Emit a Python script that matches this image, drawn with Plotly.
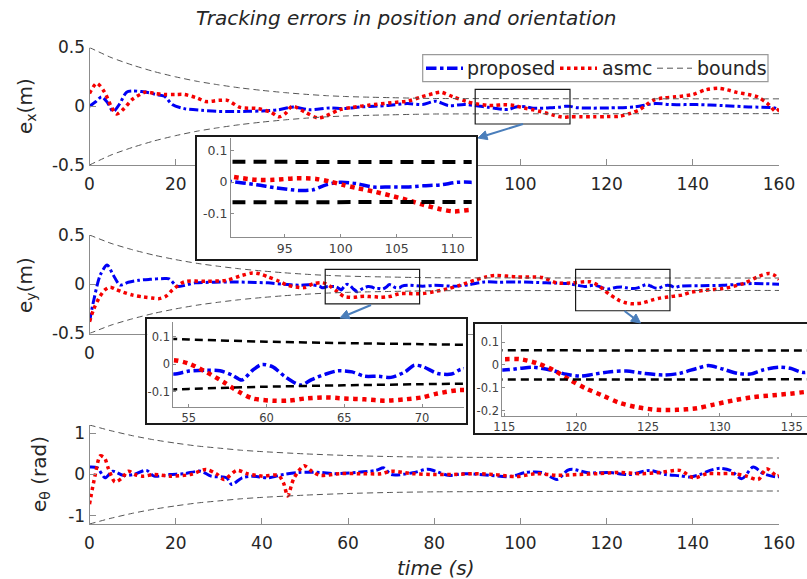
import math
import plotly.graph_objects as go

W, H = 807, 579

# ---------------- data ----------------
t_ticks = [0, 20, 40, 60, 80, 100, 120, 140, 160]
series_names = ["proposed", "asmc", "bounds"]

# e_x
ex_t_prop = [0, 1.5, 2.8, 4.2, 5.5, 7, 8.6, 10.2, 12, 13.8, 15.5, 17.4, 19.2, 22, 26, 29.4, 33, 36.6, 40,
             43.8, 47.4, 51, 55.8, 59, 63, 69, 73.7, 77.3, 80.3, 83.3, 87, 90.2, 92.5, 94.3, 96.3, 97.5,
             98.7, 99.9, 101.4, 102.9, 104.4, 105.9, 107.4, 108.9, 110.4, 111.6, 113, 116.5, 120.5,
             126.5, 131.3, 135, 141, 147, 153, 159, 160]
ex_prop = [0, 0.04, 0.08, 0.03, -0.045, 0.02, 0.12, 0.13, 0.125, 0.115, 0.1, 0.085, 0.015, -0.02, -0.035,
           -0.043, -0.045, -0.043, -0.04, -0.03, -0.006, -0.03, -0.014, -0.02, -0.006, 0.006, 0.023, 0.014,
           0.043, 0.006, 0.015, 0.002, -0.009, -0.019, -0.027, -0.025, -0.009, -0.001, -0.005, -0.016,
           -0.016, -0.016, -0.012, -0.009, -0.001, -0.001, -0.012, -0.016, -0.014, -0.006, 0.023, 0.014,
           0.014, 0.006, -0.006, -0.014, -0.03]
ex_t_asmc = [0, 1.7, 3.5, 5, 6.3, 8, 10, 13, 15, 17.4, 20, 22, 25, 27, 30, 32, 35, 39, 42, 44, 45.5, 47,
             50, 53, 55, 58, 61, 65, 70, 74, 77, 80, 81.5, 84.4, 87.5, 90.2, 92.5, 94, 96, 97.8, 99, 100.2,
             101.4, 102.9, 104.4, 105.9, 107.4, 108.9, 110.1, 111.6, 114, 117, 120, 123, 125.5, 127.6,
             130.7, 133, 136, 140, 143, 146, 148, 150, 153.4, 155, 157.3, 159.3, 160]
ex_asmc = [0.11, 0.195, 0.12, 0.0, -0.066, -0.02, 0.06, 0.12, 0.11, 0.1, 0.1, 0.1, 0.07, 0.04, 0.05, 0.05,
           -0.01, -0.02, -0.05, -0.09, -0.06, 0.0, -0.05, -0.1, -0.08, -0.03, -0.01, 0.01, 0.03, 0.045, 0.08,
           0.11, 0.12, 0.08, 0.04, 0.018, 0.007, 0.007, 0.012, 0.01, 0.002, -0.009, -0.019, -0.03, -0.043,
           -0.057, -0.073, -0.087, -0.094, -0.089, -0.09, -0.09, -0.088, -0.085, -0.06, -0.03, 0.05, 0.07,
           0.08, 0.1, 0.14, 0.153, 0.14, 0.12, 0.096, 0.08, 0.025, -0.046, -0.02]

# e_y
ey_t_prop = [0, 1, 2.5, 4.1, 5.5, 7.1, 9, 11.4, 14, 17.4, 18.5, 20.4, 24.6, 29, 33, 37, 41.4, 45, 48.6, 51,
             53.4, 54, 55, 56.1, 57, 57.8, 58.4, 59.1, 59.7, 60.4, 61.2, 62.2, 62.9, 63.8, 64.6, 65.5, 66.3,
             67.2, 68, 68.9, 69.5, 70.1, 71, 71.9, 72.5, 74, 77.3, 80, 84.5, 88, 91.7, 95, 99, 106, 111,
             114.9, 116.1, 117, 118.2, 119.3, 120.3, 121.2, 122.4, 123.5, 124.7, 126.1, 127.2, 128.4, 129.2,
             130.2, 131.2, 132.1, 133, 134.1, 134.9, 135.8, 137, 142, 147, 154, 160]
ey_prop = [-0.38, -0.16, 0.094, 0.195, 0.094, -0.008, 0.02, 0.04, 0.05, 0.058, 0.055, -0.02, 0.014, 0.02,
           0.024, 0.02, 0.014, 0.0, -0.01, -0.005, -0.02, -0.036, -0.025, -0.022, -0.024, -0.04, -0.058,
           -0.022, -0.001, -0.01, -0.046, -0.076, -0.056, -0.036, -0.024, -0.028, -0.044, -0.044, -0.048,
           -0.028, -0.004, -0.01, -0.034, -0.036, -0.019, -0.01, -0.02, -0.01, -0.02, -0.005, 0.024, 0.02,
           0.024, 0.014, 0.007, -0.022, -0.015, -0.01, -0.022, -0.041, -0.049, -0.041, -0.03, -0.027,
           -0.037, -0.044, -0.037, -0.015, -0.003, -0.018, -0.037, -0.04, -0.022, -0.01, -0.015, -0.033,
           -0.02, -0.015, -0.01, 0.007, 0.0]
ey_t_asmc = [0, 1, 2.4, 3.5, 4.8, 6, 7.8, 10, 12.6, 14.5, 16.2, 17.8, 19.2, 22, 27, 31.8, 35.4, 37.8, 39.5,
             41.4, 44, 46, 49.8, 52, 54, 55, 56.1, 57.2, 58.2, 59.1, 60.4, 61.4, 62.5, 63.8, 65, 66.3, 67.6,
             68.9, 70, 71, 72.3, 74, 77.3, 80, 83.3, 86, 89.3, 92, 94, 99, 105, 108.5, 112, 114.9, 116.1,
             117.3, 118.4, 119.6, 120.7, 121.9, 123, 124.2, 125.6, 127, 128.4, 129.5, 130.9, 132.3, 133.7,
             134.9, 135.9, 137.5, 139.7, 143, 147, 151.7, 155.3, 157.7, 159, 160]
ey_asmc = [-0.38, -0.25, -0.126, -0.06, -0.03, -0.05, -0.08, -0.11, -0.13, -0.14, -0.146, -0.12, -0.06,
           0.024, 0.03, 0.04, 0.09, 0.115, 0.105, 0.075, 0.03, -0.01, -0.034, 0.007, 0.015, 0.002, -0.028,
           -0.064, -0.1, -0.125, -0.133, -0.133, -0.125, -0.121, -0.125, -0.128, -0.133, -0.128, -0.121,
           -0.107, -0.095, -0.095, -0.095, -0.075, -0.044, -0.01, 0.04, 0.075, 0.09, 0.075, 0.068, 0.014,
           0.014, 0.025, 0.025, 0.007, -0.022, -0.067, -0.104, -0.136, -0.166, -0.185, -0.197, -0.197,
           -0.19, -0.175, -0.156, -0.141, -0.133, -0.126, -0.119, -0.11, -0.08, -0.06, -0.044, 0.007, 0.08,
           0.11, 0.09, 0.047]

# e_theta
eth_t_prop = [0, 1.8, 3.6, 5.4, 7.8, 10.2, 13.2, 15, 18.6, 22, 25.8, 28.2, 31.8, 33, 35.4, 37.8, 41.4, 45,
              48.6, 53.4, 57, 61.8, 66.5, 68.3, 70, 75, 78.5, 80.3, 83.3, 87, 93, 97.7, 101.3, 105, 108.5,
              110.9, 112, 115.7, 120.5, 125.3, 130, 133.7, 137, 139.4, 141.7, 144, 146.3, 148.7, 151.4,
              154, 156.4, 159.5, 160]
eth_prop = [0.18, 0.16, -0.08, 0.08, -0.02, 0.0, 0.1, -0.04, 0.0, 0.02, 0.08, -0.04, -0.08, -0.24, -0.08,
            -0.04, -0.08, 0.0, 0.05, 0.05, 0.02, 0.05, 0.1, 0.16, 0.0, 0.04, 0.13, 0.08, -0.02, 0.02, -0.02,
            -0.05, 0.05, 0.05, -0.12, 0.1, 0.13, 0.04, 0.05, 0.0, 0.1, 0.0, -0.03, -0.06, 0.0, 0.1, 0.15,
            0.1, -0.1, 0.18, 0.02, -0.06, -0.05]
eth_t_asmc = [0, 1.3, 2.5, 3.5, 4.4, 5.9, 7.4, 9, 10.5, 12.5, 15, 18.6, 23.4, 27, 29.4, 31.2, 34.2, 36.6,
              40.2, 43.8, 45, 46, 47.4, 49.8, 51.6, 53.4, 58, 63, 67.7, 70, 75, 79.7, 84.5, 89.3, 94, 99,
              103.8, 108.6, 113.3, 118, 122.9, 127.7, 132.5, 137, 140.2, 143.3, 146.3, 149.4, 152.5, 155.2,
              157.1, 159.5, 160]
eth_asmc = [-0.72, -0.02, 0.45, 0.4, 0.14, -0.18, -0.1, 0.08, 0.0, -0.04, 0.0, -0.04, 0.0, 0.12, 0.02,
            -0.12, 0.1, 0.02, -0.04, -0.02, -0.2, -0.52, -0.1, 0.21, 0.08, -0.02, 0.02, 0.02, 0.02, 0.08,
            0.02, 0.0, 0.0, 0.02, 0.0, -0.05, 0.02, -0.02, 0.0, 0.02, 0.05, 0.02, 0.05, 0.1, -0.08, 0.02,
            0.02, 0.02, -0.04, -0.12, 0.14, -0.04, -0.02]

# prescribed performance bounds (upper; lower is its mirror)
bnd_t_pos = [0, 5, 10, 15, 20, 25, 30, 35, 40, 45, 50, 55, 60, 65, 70, 75, 80, 160]
bnd_pos = [0.5, 0.415, 0.35, 0.295, 0.25, 0.212, 0.182, 0.156, 0.135, 0.117, 0.102, 0.09, 0.082, 0.077,
           0.073, 0.069, 0.066, 0.063]
bnd_t_ang = [0, 5, 10, 15, 20, 25, 30, 35, 40, 50, 60, 70, 80, 160]
bnd_ang = [1.2, 1.06, 0.94, 0.84, 0.76, 0.69, 0.64, 0.59, 0.555, 0.5, 0.46, 0.435, 0.42, 0.4]

for a, b in [(ex_t_prop, ex_prop), (ex_t_asmc, ex_asmc), (ey_t_prop, ey_prop), (ey_t_asmc, ey_asmc),
             (eth_t_prop, eth_prop), (eth_t_asmc, eth_asmc), (bnd_t_pos, bnd_pos), (bnd_t_ang, bnd_ang)]:
    assert len(a) == len(b), (len(a), len(b))

# ---------------- helpers ----------------
def px(x):
    return x / W

def py(y):
    return 1 - y / H

BLUE = "rgb(0,0,245)"
RED = "rgb(245,0,0)"
AXC = "#8c8c8c"
FONT = "DejaVu Sans"
BND_MAIN = dict(color="#555555", width=1, dash="6px,4px")

fig = go.Figure()

def add_series(xa, ya, tp, vp, ta, va, tb, vb, inset=False, bwidth=None, bdash=None):
    lw_b = 3.5 if inset else 3
    lw_r = 4.5 if inset else 3.5
    fig.add_trace(go.Scatter(x=tp, y=vp, xaxis=xa, yaxis=ya, mode="lines", name=series_names[0],
                             line=dict(color=BLUE, width=lw_b, dash="dashdot", shape="spline", smoothing=0.8),
                             showlegend=False, hoverinfo="skip"))
    fig.add_trace(go.Scatter(x=ta, y=va, xaxis=xa, yaxis=ya, mode="lines", name=series_names[1],
                             line=dict(color=RED, width=lw_r, dash="dot", shape="spline", smoothing=0.8),
                             showlegend=False, hoverinfo="skip"))
    if inset:
        bl = dict(color="black", width=bwidth, dash=bdash)
    else:
        bl = dict(BND_MAIN)
    for sgn in (1, -1):
        fig.add_trace(go.Scatter(x=tb, y=[sgn * v for v in vb], xaxis=xa, yaxis=ya, mode="lines",
                                 name=series_names[2], line=dict(bl, shape="spline", smoothing=0.6),
                                 showlegend=False, hoverinfo="skip"))

def dummy(xa, ya):
    fig.add_trace(go.Scatter(x=[None], y=[None], xaxis=xa, yaxis=ya, mode="lines",
                             showlegend=False, hoverinfo="skip"))

# main subplots
add_series("x", "y", ex_t_prop, ex_prop, ex_t_asmc, ex_asmc, bnd_t_pos, bnd_pos)
add_series("x2", "y2", ey_t_prop, ey_prop, ey_t_asmc, ey_asmc, bnd_t_pos, bnd_pos)
add_series("x3", "y3", eth_t_prop, eth_prop, eth_t_asmc, eth_asmc, bnd_t_ang, bnd_ang)
# insets (box frame first, then zoomed axes)
dummy("x4", "y4")
add_series("x5", "y5", ex_t_prop, ex_prop, ex_t_asmc, ex_asmc, bnd_t_pos, bnd_pos, inset=True,
           bwidth=4, bdash="13px,8px")
dummy("x6", "y6")
add_series("x7", "y7", ey_t_prop, ey_prop, ey_t_asmc, ey_asmc, bnd_t_pos, bnd_pos, inset=True,
           bwidth=2.5, bdash="8px,5px")
dummy("x8", "y8")
add_series("x9", "y9", ey_t_prop, ey_prop, ey_t_asmc, ey_asmc, bnd_t_pos, bnd_pos, inset=True,
           bwidth=2.5, bdash="8px,5px")

main_ax = dict(showline=True, linecolor=AXC, linewidth=1, ticks="inside", ticklen=6, tickcolor=AXC,
               showgrid=False, zeroline=False, tickfont=dict(family=FONT, size=17, color="#262626"),
               fixedrange=True, automargin=False)
xdom = [px(89.5), px(779)]

def xmain(anchor, hidden):
    return dict(main_ax, domain=xdom, range=[0, 160], tickvals=t_ticks,
                ticktext=["" if v in hidden else str(v) for v in t_ticks],
                ticklabelstandoff=4, anchor=anchor)

layout = dict(
    width=W, height=H, margin=dict(l=0, r=0, t=0, b=0, pad=0, autoexpand=False),
    paper_bgcolor="white", plot_bgcolor="white", showlegend=False,
    font=dict(family=FONT, color="#262626"),
    # tick labels that sit behind the inset panels are left blank
    xaxis=xmain("y", [40, 60, 80]),
    yaxis=dict(main_ax, anchor="x", domain=[py(165), py(47.5)], range=[-0.5, 0.5],
               tickvals=[-0.5, 0, 0.5], ticktext=["-0.5", "0", "0.5"]),
    xaxis2=xmain("y2", [20, 40, 60, 80, 100, 120, 140, 160]),
    yaxis2=dict(main_ax, anchor="x2", domain=[py(333.5), py(235)], range=[-0.5, 0.5],
                tickvals=[-0.5, 0, 0.5], ticktext=["-0.5", "0", "0.5"]),
    xaxis3=xmain("y3", []),
    yaxis3=dict(main_ax, anchor="x3", domain=[py(524), py(425)], range=[-1.2, 1.2],
                tickvals=[-1, 0, 1], ticktext=["-1", "0", "1"]),
)

def box_axes(n, x0, x1, y0, y1, right=True):
    xa = dict(domain=[px(x0), min(px(x1), 1.0)], range=[0, 1], showline=True, mirror=True,
              linecolor="#1a1a1a", linewidth=1.5, showticklabels=False, ticks="", showgrid=False,
              zeroline=False, fixedrange=True, anchor="y%d" % n)
    ya = dict(domain=[py(y1), py(y0)], range=[0, 1], showline=True, mirror=right,
              linecolor="#1a1a1a", linewidth=1.5, showticklabels=False, ticks="", showgrid=False,
              zeroline=False, fixedrange=True, anchor="x%d" % n)
    layout["xaxis%d" % n] = xa
    layout["yaxis%d" % n] = ya

inset_ax = dict(showline=True, linecolor=AXC, linewidth=1, ticks="inside", ticklen=3, tickcolor=AXC,
                showgrid=False, zeroline=False, fixedrange=True)

def inset_axes(n, x0, x1, y0, y1, xr, yr, xt, yt, fs):
    tf = dict(family=FONT, size=fs, color="#404040")
    layout["xaxis%d" % n] = dict(inset_ax, domain=[px(x0), min(px(x1), 1.0)], range=xr, tickvals=xt,
                                 ticktext=[str(v) for v in xt], tickfont=tf, anchor="y%d" % n)
    layout["yaxis%d" % n] = dict(inset_ax, domain=[py(y1), py(y0)], range=yr, tickvals=yt,
                                 ticktext=[("%g" % v) for v in yt], tickfont=tf, anchor="x%d" % n)

box_axes(4, 197, 476, 137, 259)
inset_axes(5, 231, 471.7, 138.3, 236.7, [90.2, 111.7], [-0.175, 0.14], [95, 100, 105, 110],
           [-0.1, 0, 0.1], 12.5)
box_axes(6, 147.3, 466, 319, 423.3)
inset_axes(7, 173.3, 464, 321.7, 406.7, [54, 72.7], [-0.155, 0.155], [55, 60, 65, 70],
           [-0.1, 0, 0.1], 11.5)
box_axes(8, 474.7, 807, 324, 433.3, right=False)
inset_axes(9, 502.3, 807, 325, 416, [114.86, 136.06], [-0.224, 0.175], [115, 120, 125, 130, 135],
           [-0.2, -0.1, 0, 0.1], 11.5)

fig.update_layout(**layout)

# zoom rectangles on the main axes
rects = [("x", "y", 89.5, 111.5, -0.151, 0.144),
         ("x2", "y2", 54.7, 76.6, -0.2, 0.152),
         ("x2", "y2", 112.8, 134.7, -0.269, 0.152)]
for xr, yr, a, b, c, d in rects:
    fig.add_shape(type="rect", xref=xr, yref=yr, x0=a, x1=b, y0=c, y1=d,
                  line=dict(color="#1a1a1a", width=1.2), fillcolor="rgba(0,0,0,0)", layer="above")

# pointer arrows from the zoom rectangles to the inset panels (pixel tail -> pixel head)
ARROW = "#4a7ebb"
arrows = [((523, 124), (478, 138)), ((371, 305), (340, 318)), ((624.5, 311), (640.5, 323))]
for (tx, ty), (hx, hy) in arrows:
    dx, dy = hx - tx, hy - ty
    L = math.hypot(dx, dy)
    ux, uy = dx / L, dy / L
    nx, ny = -uy, ux
    hl, hw = 9, 4.5
    bx, by = hx - hl * ux, hy - hl * uy
    fig.add_shape(type="line", xref="paper", yref="paper", x0=px(tx), y0=py(ty), x1=px(bx), y1=py(by),
                  line=dict(color=ARROW, width=2), layer="above")
    p1 = (bx + hw * nx, by + hw * ny)
    p2 = (bx - hw * nx, by - hw * ny)
    path = "M %f,%f L %f,%f L %f,%f Z" % (px(hx), py(hy), px(p1[0]), py(p1[1]), px(p2[0]), py(p2[1]))
    fig.add_shape(type="path", xref="paper", yref="paper", path=path, fillcolor=ARROW,
                  line=dict(color=ARROW, width=1), layer="above")

# ---------------- legend (drawn by hand to match the boxed MATLAB legend) ----------------
LY = 68.2
fig.add_shape(type="rect", xref="paper", yref="paper", x0=px(422.7), x1=px(768), y0=py(81.7), y1=py(54.7),
              fillcolor="white", line=dict(color="#9a9a9a", width=1.2), layer="above")
legend_items = [
    ((426, 463), dict(color=BLUE, width=3.5, dash="dashdot"), 465),
    ((560, 597), dict(color=RED, width=3.5, dash="dot"), 600),
    ((657, 692), dict(BND_MAIN), 695),
]
annotations = []
for (s0, s1), ln, tx in legend_items:
    fig.add_shape(type="line", xref="paper", yref="paper", x0=px(s0), x1=px(s1), y0=py(LY), y1=py(LY),
                  line=ln, layer="above")
for name, (_, _, tx) in zip(series_names, legend_items):
    annotations.append(dict(x=px(tx), y=py(LY), xref="paper", yref="paper", showarrow=False,
                            xanchor="left", yanchor="middle", text=name,
                            font=dict(family=FONT, size=19, color="#262626")))

def label(x, y, text, angle=0):
    return dict(x=px(x), y=py(y), xref="paper", yref="paper", showarrow=False, textangle=angle,
                xanchor="center", yanchor="middle", text=text,
                font=dict(family=FONT, size=20, color="#262626"))

annotations += [
    label(406, 18, "<i>Tracking errors in position and orientation</i>"),
    label(26, 106, "e<sub>x</sub>(m)", -90),
    label(26, 285, "e<sub>y</sub>(m)", -90),
    label(40, 474, "e<sub>θ</sub> (rad)", -90),
    label(436, 568, "<i>time (s)</i>"),
]
fig.update_layout(annotations=annotations)

fig.write_html("out.html")
